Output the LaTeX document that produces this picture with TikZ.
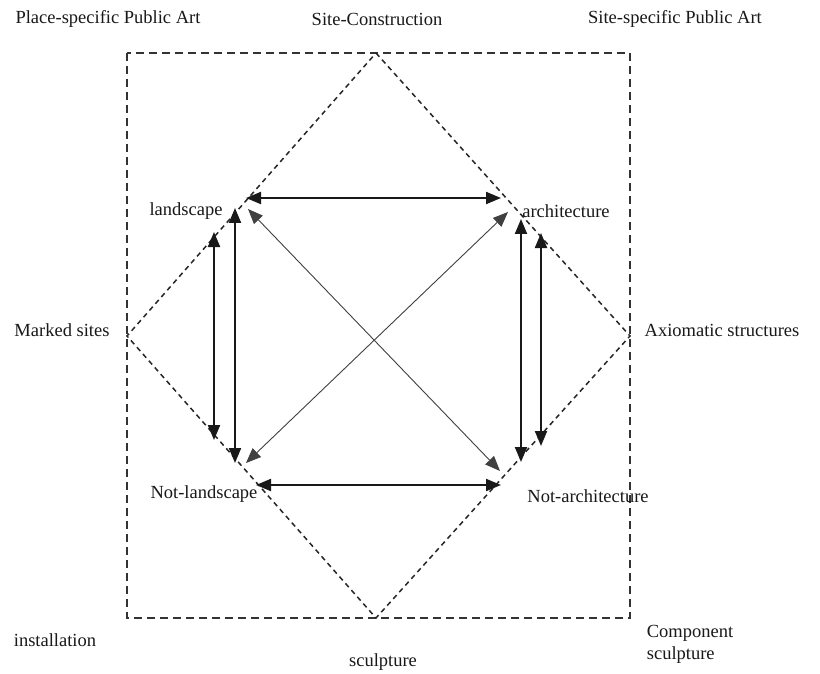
\documentclass[tikz,border=0pt]{standalone}
\usepackage{fontspec}
\setmainfont{Liberation Serif}
\usetikzlibrary{arrows.meta}
\begin{document}
\begin{tikzpicture}[x=1pt,y=-1pt,
  lbl/.style={font=\fontsize{18.5}{22}\selectfont, text=black!90, inner sep=0pt},
  boxline/.style={draw=black!80, line width=1.8pt, dash pattern=on 8pt off 5pt},
  diamline/.style={draw=black!85, line width=1.5pt, dash pattern=on 5pt off 4pt},
  heavy/.style={draw=black!90, line width=2pt, {Triangle[length=15pt,width=12pt]}-{Triangle[length=15pt,width=12pt]}},
  thin/.style={draw=black!75, line width=0.9pt, {Triangle[length=15pt,width=12pt]}-{Triangle[length=15pt,width=12pt]}}]
\useasboundingbox (0,0) rectangle (820,674);
\fill[white] (0,0) rectangle (820,674);
% frame and diamond
\coordinate (T) at (376,53);
\coordinate (B) at (376,618);
\coordinate (L) at (127,336);
\coordinate (R) at (630,336);
\draw[boxline] (127,53) rectangle (630,618);
\draw[diamline] (T) -- (R) -- (B) -- (L) -- cycle;
% arrow end points
\coordinate (tl) at (246,198);
\coordinate (tr) at (501,198);
\coordinate (bl) at (256,485);
\coordinate (br) at (501,485);
\coordinate (lo1) at (214,232);
\coordinate (lo2) at (214,440);
\coordinate (li1) at (235,208);
\coordinate (li2) at (235,463);
\coordinate (ri1) at (521,219);
\coordinate (ri2) at (521,462);
\coordinate (ro1) at (541,233);
\coordinate (ro2) at (541,446);
\coordinate (d1a) at (248,209);
\coordinate (d1b) at (500,471);
\coordinate (d2a) at (508,212);
\coordinate (d2b) at (246,463);
\draw[heavy] (tl) -- (tr);
\draw[heavy] (bl) -- (br);
\draw[heavy] (lo1) -- (lo2);
\draw[heavy] (li1) -- (li2);
\draw[heavy] (ri1) -- (ri2);
\draw[heavy] (ro1) -- (ro2);
\draw[thin] (d1a) -- (d1b);
\draw[thin] (d2a) -- (d2b);
% labels
\node[lbl] (psa) at (108,19) {Place-specific Public Art};
\node[lbl] (sc) at (377,19) {Site-Construction};
\node[lbl] (ssa) at (675,19) {Site-specific Public Art};
\node[lbl] (land) at (186,211) {landscape};
\node[lbl] (arch) at (566,211) {architecture};
\node[lbl] (ms) at (62,330) {Marked sites};
\node[lbl] (ax) at (722,330) {Axiomatic structures};
\node[lbl] (nl) at (204,494) {Not-landscape};
\node[lbl] (na) at (588,496) {Not-architecture};
\node[lbl] (inst) at (55,640) {installation};
\node[lbl] (scul) at (383,662) {sculpture};
\node[lbl, align=left] (comp) at (690,644) {Component\\sculpture};
\end{tikzpicture}
\end{document}
